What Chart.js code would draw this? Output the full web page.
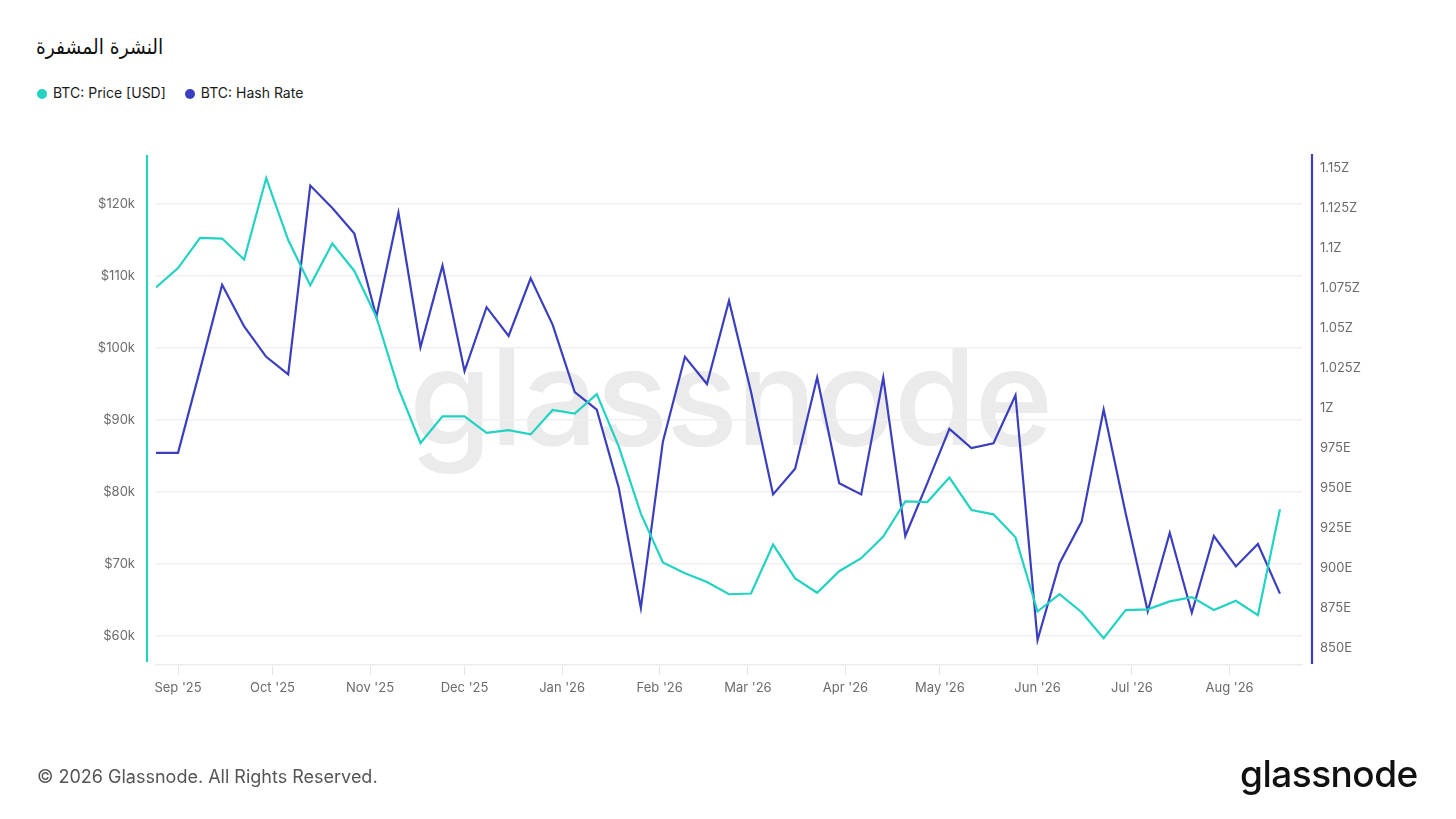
<!DOCTYPE html>
<html>
<head>
<meta charset="utf-8">
<script src="https://cdn.jsdelivr.net/npm/chart.js@4.4.1/dist/chart.umd.min.js"></script>
<style>
html,body{margin:0;padding:0;background:#fff;width:1456px;height:819px;overflow:hidden;font-family:Inter,"Noto Sans",sans-serif;}
#title{position:absolute;left:36px;top:35px;font-size:21px;color:#111;font-family:"DejaVu Sans","Noto Sans",sans-serif;direction:rtl;unicode-bidi:embed;transform:scaleX(0.89);transform-origin:left top;}
#legend{position:absolute;left:37px;top:84px;font-size:14px;color:#1a1a1a;white-space:nowrap;}
#legend span.item{display:inline-block;margin-right:19px;}
.dot{display:inline-block;width:10px;height:10px;border-radius:50%;margin-right:6px;vertical-align:-1px;}
#wm{position:absolute;left:409px;top:315px;font-size:134px;font-weight:500;color:#ebebeb;letter-spacing:-2px;}
#copy{position:absolute;left:37px;top:766px;font-size:18px;color:#555;}
#logo{position:absolute;left:1240px;top:751px;font-size:37px;font-weight:500;color:#111;letter-spacing:-0.5px;}
canvas{position:absolute;left:0;top:0;}
</style>
</head>
<body>
<div id="wm">glassnode</div>
<div id="title">النشرة المشفرة</div>
<div id="legend"><span class="item"><span class="dot" style="background:#22d3c2"></span>BTC: Price [USD]</span><span class="item"><span class="dot" style="background:#3b3fbf"></span>BTC: Hash Rate</span></div>
<canvas id="c" width="1456" height="819"></canvas>
<div id="copy">© 2026 Glassnode. All Rights Reserved.</div>
<div id="logo">glassnode</div>
<script>
const weekDates = [
 "2025-08-25","2025-09-01","2025-09-08","2025-09-15","2025-09-22","2025-09-29","2025-10-06","2025-10-13",
 "2025-10-20","2025-10-27","2025-11-03","2025-11-10","2025-11-17","2025-11-24","2025-12-01","2025-12-08",
 "2025-12-15","2025-12-22","2025-12-29","2026-01-05","2026-01-12","2026-01-19","2026-01-26","2026-02-02",
 "2026-02-09","2026-02-16","2026-02-23","2026-03-02","2026-03-09","2026-03-16","2026-03-23","2026-03-30",
 "2026-04-06","2026-04-13","2026-04-20","2026-04-27","2026-05-04","2026-05-11","2026-05-18","2026-05-25",
 "2026-06-01","2026-06-08","2026-06-15","2026-06-22","2026-06-29","2026-07-06","2026-07-13","2026-07-20",
 "2026-07-27","2026-08-03","2026-08-10","2026-08-17"
];
const priceUSD = [
 108400,111100,115300,115200,112300,123600,115000,108700,114500,110700,104300,94400,86800,90500,90500,88200,
 88600,88000,91400,90900,93600,86300,77000,70200,68700,67500,65800,65900,72700,68000,66000,69000,
 70800,73800,78700,78600,82000,77500,76900,73700,63400,65800,63300,59700,63600,63700,64800,65400,
 63600,64900,62900,77600
];
const hashRateEH = [
 972,972,1024,1077,1051,1032,1021,1139,1125,1109,1057,1122,1038,1089,1023,1063,
 1045,1081,1052,1010,999,950,875,979,1032,1015,1067,1010,946,962,1019,953,
 946,1019,920,953,987,975,978,1008,855,903,929,999,934,873,922,872,
 920,901,915,884
];
const monthTickDates = ["2025-09-01","2025-10-01","2025-11-01","2025-12-01","2026-01-01","2026-02-01",
 "2026-03-01","2026-04-01","2026-05-01","2026-06-01","2026-07-01","2026-08-01"];
const monthTickLabels = ["Sep '25","Oct '25","Nov '25","Dec '25","Jan '26","Feb '26",
 "Mar '26","Apr '26","May '26","Jun '26","Jul '26","Aug '26"];
const priceTicks = [60000,70000,80000,90000,100000,110000,120000];
const hashTicks = [850,875,900,925,950,975,1000,1025,1050,1075,1100,1125,1150];

const TEAL = '#22d3c2', BLUE = '#3b3fbf';
const DAY = 86400000, ORIGIN = Date.UTC(2025,8,1);
const toDay = s => (Date.parse(s + 'T00:00:00Z') - ORIGIN) / DAY;
const monthDays = monthTickDates.map(toDay);
const tickFont = {family:'Inter, "Noto Sans", sans-serif', size:13};
const tickColor = '#6b6b6b';

const axisLines = {
  id:'axisLines',
  afterDraw(chart){
    const {ctx, chartArea:a} = chart;
    ctx.save();
    ctx.lineWidth = 2.2;
    ctx.strokeStyle = TEAL;
    ctx.beginPath(); ctx.moveTo(a.left-9, a.top); ctx.lineTo(a.left-9, a.bottom-3); ctx.stroke();
    ctx.strokeStyle = BLUE;
    ctx.beginPath(); ctx.moveTo(a.right+10, a.top-1); ctx.lineTo(a.right+10, a.bottom-1); ctx.stroke();
    ctx.restore();
  }
};

new Chart(document.getElementById('c'), {
  type:'line',
  data:{
    datasets:[
      {label:'BTC: Price [USD]', data: weekDates.map((d,i)=>({x:toDay(d), y:priceUSD[i]})),
       borderColor:TEAL, borderWidth:2.2, pointRadius:0, tension:0, yAxisID:'y'},
      {label:'BTC: Hash Rate', data: weekDates.map((d,i)=>({x:toDay(d), y:hashRateEH[i]})),
       borderColor:BLUE, borderWidth:2.2, pointRadius:0, tension:0, yAxisID:'y1'}
    ]
  },
  options:{
    responsive:false, animation:false, devicePixelRatio:1,
    layout:{padding:{top:155,left:0,right:0,bottom:0}},
    plugins:{legend:{display:false}, tooltip:{enabled:false}},
    scales:{
      x:{type:'linear', min:-7, max:357,
        afterBuildTicks: s => { s.ticks = monthDays.map(v=>({value:v})); },
        afterFit: s => { s.height = 154; },
        grid:{display:true, drawOnChartArea:false, drawTicks:true, tickLength:10, color:'#e4e4e4'},
        border:{display:true, color:'#ececec', width:1.5},
        ticks:{font:tickFont, color:tickColor, padding:5, maxRotation:0, autoSkip:false,
          callback:(v,i)=>monthTickLabels[i]}
      },
      y:{type:'linear', position:'left', min:55970, max:126806,
        afterBuildTicks: s => { s.ticks = priceTicks.map(v=>({value:v})); },
        afterFit: s => { s.width = 156; },
        grid:{display:true, drawOnChartArea:true, drawTicks:false, color:'#efefef', lineWidth:1.5},
        border:{display:false},
        ticks:{font:tickFont, color:tickColor, padding:21, callback:v=>'$'+(v/1000)+'k'}
      },
      y1:{type:'linear', position:'right', min:839.375, max:1158.125,
        afterBuildTicks: s => { s.ticks = hashTicks.map(v=>({value:v})); },
        afterFit: s => { s.width = 154; },
        grid:{display:false, drawTicks:false},
        border:{display:false},
        ticks:{font:tickFont, color:tickColor, padding:18,
          callback:v=> v>=1000 ? (v/1000)+'Z' : v+'E'}
      }
    }
  },
  plugins:[axisLines]
});
</script>
</body>
</html>
